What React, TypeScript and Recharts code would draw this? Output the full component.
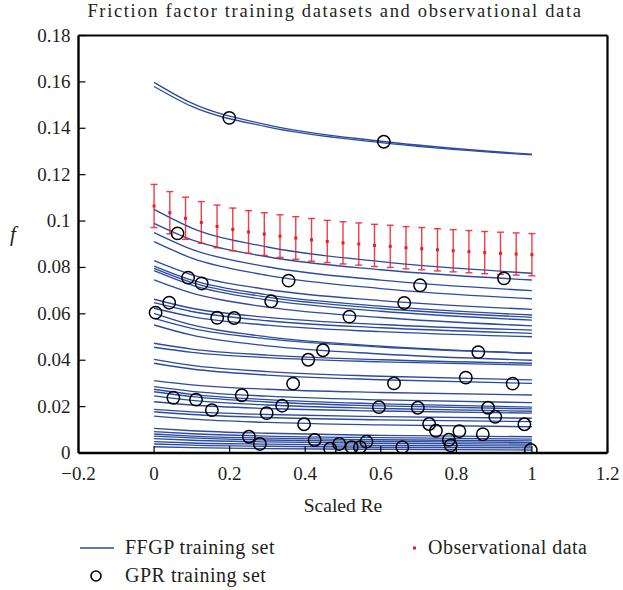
import React from "react"
import { ComposedChart, Line, Scatter, XAxis, YAxis, ErrorBar } from "recharts"

const curveX = [0, 0.1, 0.3, 0.6, 1]

// FFGP training set, one row per curve (f at curveX)
const ffgpCurves = [
  [0.1598, 0.1508, 0.1415, 0.1344, 0.1288],
  [0.158, 0.1494, 0.1406, 0.1338, 0.1285],
  [0.105, 0.097, 0.0888, 0.0825, 0.0775],
  [0.099, 0.0919, 0.0846, 0.079, 0.0746],
  [0.095, 0.0878, 0.0803, 0.0745, 0.07],
  [0.0911, 0.084, 0.0766, 0.0709, 0.0665],
  [0.0829, 0.0768, 0.0705, 0.0657, 0.0619],
  [0.0806, 0.0745, 0.0682, 0.0633, 0.0595],
  [0.0796, 0.0735, 0.0672, 0.0623, 0.0585],
  [0.0786, 0.0724, 0.066, 0.0611, 0.0573],
  [0.0746, 0.0689, 0.0629, 0.0584, 0.0548],
  [0.0663, 0.0624, 0.0585, 0.0554, 0.053],
  [0.0648, 0.061, 0.057, 0.054, 0.0516],
  [0.0624, 0.0588, 0.0551, 0.0523, 0.0501],
  [0.0602, 0.0552, 0.0501, 0.0461, 0.043],
  [0.058, 0.0537, 0.0492, 0.0457, 0.043],
  [0.0552, 0.0508, 0.0462, 0.0427, 0.04],
  [0.0473, 0.0448, 0.0422, 0.0402, 0.0387],
  [0.0456, 0.0434, 0.0411, 0.0393, 0.0379],
  [0.0404, 0.0378, 0.0351, 0.0331, 0.0315],
  [0.0387, 0.0362, 0.0336, 0.0316, 0.03],
  [0.0312, 0.0294, 0.0275, 0.0261, 0.025],
  [0.0286, 0.0266, 0.0245, 0.0229, 0.0217],
  [0.0275, 0.0253, 0.023, 0.0212, 0.0198],
  [0.0264, 0.0243, 0.022, 0.0203, 0.019],
  [0.0246, 0.0227, 0.0207, 0.0192, 0.018],
  [0.0221, 0.0207, 0.0192, 0.0181, 0.0172],
  [0.0188, 0.0177, 0.0166, 0.0157, 0.015],
  [0.0178, 0.0166, 0.0153, 0.0143, 0.0135],
  [0.0159, 0.0146, 0.0132, 0.0121, 0.0113],
  [0.0106, 0.0096, 0.0085, 0.0076, 0.007],
  [0.0092, 0.0083, 0.0073, 0.0066, 0.006],
  [0.0082, 0.0073, 0.0064, 0.0057, 0.0052],
  [0.0073, 0.0065, 0.0056, 0.005, 0.0045],
  [0.0062, 0.0055, 0.0048, 0.0042, 0.0038],
  [0.0049, 0.0043, 0.0038, 0.0033, 0.003],
  [0.0039, 0.0034, 0.0029, 0.0025, 0.0022],
  [0.0027, 0.0023, 0.0019, 0.0016, 0.0013],
]

// GPR training set (circles)
const gprX = [
  0.199, 0.608, 0.062, 0.09, 0.126, 0.356, 0.04, 0.004, 0.167, 0.212,
  0.31, 0.517, 0.447, 0.408, 0.368, 0.051, 0.111, 0.153, 0.232, 0.298,
  0.339, 0.397, 0.251, 0.28, 0.425, 0.466, 0.49, 0.523, 0.545, 0.562,
  0.657, 0.926, 0.704, 0.662, 0.858, 0.825, 0.949, 0.635, 0.595, 0.698,
  0.884, 0.903, 0.98, 0.728, 0.746, 0.808, 0.87, 0.78, 0.785, 0.997,
]
const gprY = [
  0.1445, 0.1342, 0.0947, 0.0756, 0.0731, 0.0743, 0.0648, 0.0605, 0.0583, 0.0582,
  0.0654, 0.0588, 0.0443, 0.0402, 0.0299, 0.0238, 0.023, 0.0185, 0.0249, 0.0172,
  0.0204, 0.0124, 0.007, 0.0039, 0.0056, 0.0019, 0.0039, 0.0025, 0.0025, 0.0049,
  0.0025, 0.0753, 0.0723, 0.0647, 0.0435, 0.0325, 0.0299, 0.03, 0.0198, 0.0195,
  0.0195, 0.0156, 0.0124, 0.0125, 0.0096, 0.0094, 0.0081, 0.0057, 0.0033, 0.0013,
]

// observational data with error bars
const obsX = [
  0, 0.0417, 0.0833, 0.125, 0.1667, 0.2083, 0.25, 0.2917, 0.3333, 0.375, 0.4167, 0.4583, 0.5,
  0.5417, 0.5833, 0.625, 0.6667, 0.7083, 0.75, 0.7917, 0.8333, 0.875, 0.9167, 0.9583, 1,
]
const obsY = [
  0.1065, 0.1036, 0.1012, 0.0994, 0.0977, 0.0964, 0.0953, 0.0944, 0.0935, 0.0927, 0.0919, 0.0912, 0.0906,
  0.0901, 0.0895, 0.0891, 0.0885, 0.0881, 0.0876, 0.0872, 0.0868, 0.0864, 0.0861, 0.0858, 0.0855,
]
const obsErr = [
  0.0093, 0.0091, 0.0091, 0.009, 0.0092, 0.0092, 0.0092, 0.0092, 0.0092, 0.0092, 0.0092, 0.0091, 0.0091,
  0.0091, 0.0091, 0.0091, 0.0091, 0.0091, 0.0091, 0.0091, 0.0091, 0.0091, 0.0091, 0.0091, 0.0091,
]

const xTicks = [-0.2, 0, 0.2, 0.4, 0.6, 0.8, 1, 1.2]
const yTicks = [0, 0.02, 0.04, 0.06, 0.08, 0.1, 0.12, 0.14, 0.16, 0.18]

const FONT = "'Liberation Serif', 'Times New Roman', serif"
const BLUE = "#2d4b9f"
const RED = "#ec1c24"
const INK = "#231f20"

const fmt = (v: number) => (v < 0 ? "\u2212" + String(-v) : String(v))

const BottomTick = ({ x, y, payload }: any) => (
  <g>
    <line x1={x} y1={y} x2={x} y2={y - 7} stroke="#000" strokeWidth={1.2} />
    <text x={x} y={y + 27} textAnchor="middle" fontSize={19} fontFamily={FONT} fill={INK}>
      {fmt(payload.value)}
    </text>
  </g>
)
const LeftTick = ({ x, y, payload }: any) => (
  <g>
    <line x1={x} y1={y} x2={x + 7} y2={y} stroke="#000" strokeWidth={1.2} />
    <text x={x - 8} y={y + 6} textAnchor="end" fontSize={19} fontFamily={FONT} fill={INK}>
      {fmt(payload.value)}
    </text>
  </g>
)
const TopTick = ({ x, y }: any) => <line x1={x} y1={y} x2={x} y2={y + 7} stroke="#000" strokeWidth={1.2} />
const RightTick = ({ x, y }: any) => <line x1={x} y1={y} x2={x - 7} y2={y} stroke="#000" strokeWidth={1.2} />

const Ring = (p: any) => <circle cx={p.cx} cy={p.cy} r={6.2} fill="none" stroke="#000" strokeWidth={1.5} />
const RedDot = (p: any) => <rect x={p.cx - 1.5} y={p.cy - 1.5} width={3} height={3} fill={RED} />

export default function App() {
  const curves = ffgpCurves.map((row) => row.map((y, i) => ({ x: curveX[i], y })))
  const gprData = gprX.map((x, i) => ({ x, y: gprY[i] }))
  const obsData = obsX.map((x, i) => ({ x, y: obsY[i], err: obsErr[i] }))

  return (
    <div style={{ position: "absolute", left: 0, top: 0, width: 623, height: 590, background: "#fff", fontFamily: FONT, color: INK }}>
      <div style={{ position: "absolute", left: 70, width: 530, top: 1, textAlign: "center", fontSize: 18.5, letterSpacing: 1.65, whiteSpace: "nowrap" }}>
        Friction factor training datasets and observational data
      </div>
      <ComposedChart width={623} height={590} margin={{ top: 0, right: 0, bottom: 107, left: 0 }}>
        <XAxis xAxisId="top" orientation="top" type="number" domain={[-0.2, 1.2]} ticks={xTicks} height={35.5}
          axisLine={{ stroke: "#000", strokeWidth: 2 }} tickLine={false} tickSize={0} tickMargin={0} tick={<TopTick />} interval={0} />
        <YAxis yAxisId="right" orientation="right" type="number" domain={[0, 0.18]} ticks={yTicks} width={15.5}
          axisLine={{ stroke: "#000", strokeWidth: 2.2 }} tickLine={false} tickSize={0} tickMargin={0} tick={<RightTick />} interval={0} />
        <XAxis dataKey="x" type="number" domain={[-0.2, 1.2]} ticks={xTicks} height={30} allowDataOverflow
          axisLine={{ stroke: "#000", strokeWidth: 2.4 }} tickLine={false} tickSize={0} tickMargin={0} tick={<BottomTick />} interval={0} />
        <YAxis dataKey="y" type="number" domain={[0, 0.18]} ticks={yTicks} width={78.5} allowDataOverflow
          axisLine={{ stroke: "#000", strokeWidth: 2.4 }} tickLine={false} tickSize={0} tickMargin={0} tick={<LeftTick />} interval={0} />
        {curves.map((d, i) => (
          <Line key={i} data={d} dataKey="y" type="monotone" stroke={BLUE} strokeWidth={1.35}
            dot={false} activeDot={false} isAnimationActive={false} />
        ))}
        <Scatter data={obsData} dataKey="y" shape={<RedDot />} isAnimationActive={false}>
          <ErrorBar dataKey="err" direction="y" width={3.5} stroke={RED} strokeWidth={1.4} strokeOpacity={0.85} isAnimationActive={false} />
        </Scatter>
        <Scatter data={gprData} dataKey="y" shape={<Ring />} isAnimationActive={false} />
      </ComposedChart>
      <div style={{ position: "absolute", left: 10, top: 222, fontSize: 21, fontStyle: "italic" }}>f</div>
      <div style={{ position: "absolute", left: 78, width: 530, top: 495, textAlign: "center", fontSize: 19.5 }}>Scaled Re</div>
      <svg style={{ position: "absolute", left: 0, top: 530 }} width={623} height={60}>
        <line x1={80} y1={18} x2={114} y2={18} stroke={BLUE} strokeWidth={1.5} />
        <circle cx={96} cy={46} r={5} fill="none" stroke="#000" strokeWidth={1.6} />
        <rect x={413} y={16.5} width={3} height={3} fill={RED} />
        <text x={125} y={24} fontSize={20} letterSpacing={0.5} fontFamily={FONT} fill={INK}>FFGP training set</text>
        <text x={125} y={52} fontSize={20} letterSpacing={0.5} fontFamily={FONT} fill={INK}>GPR training set</text>
        <text x={428} y={24} fontSize={20} letterSpacing={0.5} fontFamily={FONT} fill={INK}>Observational data</text>
      </svg>
    </div>
  )
}
